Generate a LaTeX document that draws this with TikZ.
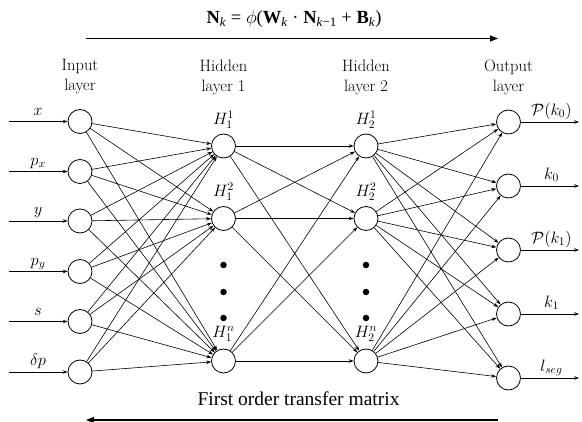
\RequirePackage{fix-cm}
\documentclass[tikz,border=0pt]{standalone}
\usepackage{fontspec}
\newfontfamily\tnr{Liberation Serif}
\usetikzlibrary{arrows.meta}
\tikzset{
  neuron/.style={circle,draw,line width=0.8pt,minimum size=24pt,inner sep=0pt},
  conn/.style={line width=0.6pt,-{Stealth[length=5pt,width=3.5pt]}},
  bigarrow/.style={line width=1.3pt,-{Triangle[length=8pt,width=6pt]}},
  lbl/.style={font=\fontsize{16.5}{20}\selectfont,align=center},
  dotmark/.style={circle,fill=black,inner sep=0pt,minimum size=6.5pt}
}
\begin{document}
\begin{tikzpicture}[x=1pt,y=-1pt]
\useasboundingbox (0,0) rectangle (582,422);
% layers
\foreach \i/\yy in {1/121.5,2/171.5,3/221,4/271.5,5/321.5,6/372}
  \node[neuron] (in\i) at (80,\yy) {};
\foreach \i/\yy in {1/146,2/218.5,3/361}{
  \node[neuron] (ha\i) at (223.5,\yy) {};
  \node[neuron] (hb\i) at (366,\yy) {};
}
\foreach \i/\yy in {1/122,2/186,3/250,4/314,5/378}
  \node[neuron] (out\i) at (508.5,\yy) {};
% dots
\foreach \j/\yy in {1/265,2/292,3/318}{
  \node[dotmark] (da\j) at (223.5,\yy) {};
  \node[dotmark] (db\j) at (366,\yy) {};
}
% input arrows and labels
\foreach \i/\t in {1/x,2/p_x,3/y,4/p_y,5/s,6/\delta p}{
  \coordinate (src\i) at ([xshift=-71pt]in\i.center);
  \draw[conn] (src\i) -- (in\i);
  \node[lbl,anchor=base] (il\i) at ([xshift=-42pt,yshift=6pt]in\i.center) {$\t$};
}
% output arrows and labels
\foreach \i/\t in {1/\mathcal{P}(k_0),2/k_0,3/\mathcal{P}(k_1),4/k_1,5/l_{seg}}{
  \coordinate (dst\i) at ([xshift=70.5pt]out\i.center);
  \draw[conn] (out\i) -- (dst\i);
  \node[lbl,anchor=base] (ol\i) at ([xshift=43pt,yshift=6.5pt]out\i.center) {$\t$};
}
% connections
\foreach \i in {1,...,6}
  \foreach \j in {1,2,3}
    \draw[conn] (in\i) -- (ha\j);
\foreach \i in {1,2,3}
  \foreach \j in {1,2,3}
    \draw[conn] (ha\i) -- (hb\j);
\foreach \i in {1,2,3}
  \foreach \j in {1,...,5}
    \draw[conn] (hb\i) -- (out\j);
% hidden labels
\node[lbl] (hla1) at (223.5,120) {$H_1^1$};
\node[lbl] (hla2) at (223.5,192) {$H_1^2$};
\node[lbl] (hla3) at (223.5,334) {$H_1^n$};
\node[lbl] (hlb1) at (366,120) {$H_2^1$};
\node[lbl] (hlb2) at (366,192) {$H_2^2$};
\node[lbl] (hlb3) at (366,334) {$H_2^n$};
% layer titles
\node[lbl] (t1) at (80,77) {Input\\layer};
\node[lbl] (t2) at (223.5,77) {Hidden\\layer 1};
\node[lbl] (t3) at (366,77) {Hidden\\layer 2};
\node[lbl] (t4) at (508.5,77) {Output\\layer};
% top formula and arrow
\node[font=\tnr\fontsize{18.5}{22}\selectfont] (formula) at (294,19)
  {\textbf{N}\textsubscript{\textit{k}} = $\phi$(\textbf{W}\textsubscript{\textit{k}} · \textbf{N}\textsubscript{\textit{k}−1} + \textbf{B}\textsubscript{\textit{k}})};
\coordinate (ta) at (86,38.5);
\coordinate (tb) at (498,38.5);
\draw[bigarrow] (ta) -- (tb);
% bottom
\node[font=\tnr\fontsize{19.5}{22}\selectfont] (bottom) at (298.5,399) {First order transfer matrix};
\coordinate (ba) at (498,420);
\coordinate (bb) at (86,420);
\draw[bigarrow] (ba) -- (bb);
\end{tikzpicture}
\end{document}
